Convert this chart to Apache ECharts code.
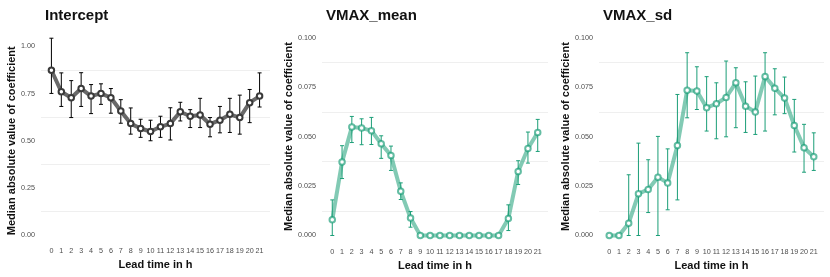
<!DOCTYPE html>
<html>
<head>
<meta charset="utf-8">
<script src="https://cdn.jsdelivr.net/npm/echarts@6/dist/echarts.min.js"></script>
<style>
  html, body { margin: 0; padding: 0; background: #fff; }
  #chart { width: 830px; height: 277px; }
</style>
</head>
<body>
<div id="chart"></div>
<script>
// ---- Data ----
const leadTimes = [0,1,2,3,4,5,6,7,8,9,10,11,12,13,14,15,16,17,18,19,20,21];

const panelTitles = ['Intercept', 'VMAX_mean', 'VMAX_sd'];

const interceptMedian = [0.874,0.760,0.728,0.777,0.737,0.751,0.728,0.658,0.591,0.565,0.549,0.574,0.591,0.654,0.630,0.637,0.588,0.609,0.640,0.623,0.702,0.737];
const interceptLow    = [0.751,0.682,0.623,0.682,0.644,0.693,0.646,0.593,0.535,0.518,0.500,0.518,0.504,0.605,0.570,0.570,0.521,0.542,0.544,0.535,0.596,0.679];
const interceptHigh   = [1.044,0.860,0.819,0.861,0.798,0.802,0.777,0.718,0.674,0.614,0.609,0.630,0.675,0.704,0.665,0.725,0.623,0.682,0.725,0.742,0.772,0.860];

const vmaxMeanMedian = [0.0079,0.0371,0.0548,0.0543,0.0530,0.0464,0.0405,0.0224,0.0088,0,0,0,0,0,0,0,0,0,0.0086,0.0324,0.0440,0.0521];
const vmaxMeanLow    = [0.0000,0.0288,0.0470,0.0459,0.0460,0.0390,0.0329,0.0182,0.0042,0,0,0,0,0,0,0,0,0,0.0025,0.0258,0.0366,0.0425];
const vmaxMeanHigh   = [0.0180,0.0454,0.0602,0.0590,0.0597,0.0504,0.0452,0.0266,0.0121,0,0,0,0,0,0,0,0,0,0.0155,0.0378,0.0523,0.0587];

const vmaxSdMedian = [0,0,0.0062,0.0211,0.0233,0.0295,0.0266,0.0455,0.0734,0.0730,0.0646,0.0666,0.0698,0.0772,0.0654,0.0624,0.0804,0.0745,0.0695,0.0556,0.0444,0.0398];
const vmaxSdLow    = [0,0,0.0000,0.0000,0.0116,0.0000,0.0130,0.0180,0.0595,0.0637,0.0528,0.0489,0.0499,0.0545,0.0521,0.0511,0.0528,0.0610,0.0616,0.0422,0.0320,0.0329];
const vmaxSdHigh   = [0,0,0.0307,0.0467,0.0383,0.0501,0.0438,0.0713,0.0924,0.0853,0.0803,0.0772,0.0882,0.0848,0.0777,0.0806,0.0924,0.0843,0.0801,0.0688,0.0562,0.0519];

const yMaxes = [1, 0.1, 0.1];
const yIntervals = [0.25, 0.025, 0.025];
const yDecimals = [2, 3, 3];

// ---- Layout / style ----
const FONT = 'Liberation Sans, Arial, Helvetica, sans-serif';
const grids = [
  { left: 41,  top: 46.5, width: 229, height: 188.5 },
  { left: 322, top: 37.7, width: 226, height: 197.8 },
  { left: 599, top: 37.7, width: 225, height: 197.8 }
];
const styles = [
  { line: 'rgba(55,55,55,0.75)', point: '#3a3a3a', err: '#000000' },
  { line: 'rgba(27,158,119,0.55)', point: 'rgba(27,158,119,0.68)', err: '#1b9e77' },
  { line: 'rgba(27,158,119,0.55)', point: 'rgba(27,158,119,0.68)', err: '#1b9e77' }
];
const medians = [interceptMedian, vmaxMeanMedian, vmaxSdMedian];
const lows = [interceptLow, vmaxMeanLow, vmaxSdLow];
const highs = [interceptHigh, vmaxMeanHigh, vmaxSdHigh];

const chart = echarts.init(document.getElementById('chart'), null, { renderer: 'canvas' });

const titles = [], xAxes = [], yAxes = [], series = [];
for (let p = 0; p < 3; p++) {
  titles.push({
    text: panelTitles[p],
    left: grids[p].left - 1,
    top: 3,
    textStyle: { fontFamily: FONT, fontWeight: 'bold', fontSize: 15, color: '#111' }
  });
  xAxes.push({
    gridIndex: p,
    type: 'value',
    min: -1.05,
    max: 22.05,
    name: 'Lead time in h',
    nameLocation: 'middle',
    nameGap: 23,
    nameTextStyle: { fontFamily: FONT, fontWeight: 'bold', fontSize: 11, color: '#111' },
    axisLine: { show: false },
    axisTick: { show: false },
    splitLine: { show: false },
    axisLabel: {
      customValues: leadTimes,
      margin: 13,
      fontFamily: FONT, fontSize: 7.2, color: '#4d4d4d',
      formatter: v => String(v)
    }
  });
  yAxes.push({
    gridIndex: p,
    type: 'value',
    min: 0,
    max: yMaxes[p],
    interval: yIntervals[p],
    name: 'Median absolute value of coefficient',
    nameLocation: 'middle',
    nameRotate: 90,
    nameGap: p === 0 ? 23.5 : 27.5,
    nameTextStyle: { fontFamily: FONT, fontWeight: 'bold', fontSize: 11, color: '#111' },
    axisLine: { show: false },
    axisTick: { show: false },
    splitLine: { show: false },
    minorTick: { show: false, splitNumber: 2 },
    minorSplitLine: { show: true, lineStyle: { color: '#ebebeb', width: 0.8 } },
    axisLabel: {
      margin: 6,
      fontFamily: FONT, fontSize: 7.2, color: '#4d4d4d',
      formatter: v => v.toFixed(yDecimals[p])
    }
  });
  const pts = leadTimes.map((t, i) => [t, medians[p][i]]);
  const errs = leadTimes.map((t, i) => [t, lows[p][i], highs[p][i]]);
  series.push({
    type: 'line',
    xAxisIndex: p, yAxisIndex: p,
    data: pts,
    showSymbol: false,
    clip: false,
    lineStyle: { color: styles[p].line, width: 4, join: 'round', cap: 'round' },
    z: 2,
    silent: true,
    animation: false
  });
  series.push({
    type: 'custom',
    xAxisIndex: p, yAxisIndex: p,
    data: errs,
    clip: false,
    z: 3,
    silent: true,
    animation: false,
    renderItem: (params, api) => {
      const x = api.value(0);
      const lo = api.coord([x, api.value(1)]);
      const hi = api.coord([x, api.value(2)]);
      const c = 2;
      const st = { stroke: styles[p].err, lineWidth: 1 };
      return {
        type: 'group',
        children: [
          { type: 'line', shape: { x1: lo[0], y1: lo[1], x2: hi[0], y2: hi[1] }, style: st },
          { type: 'line', shape: { x1: lo[0] - c, y1: lo[1], x2: lo[0] + c, y2: lo[1] }, style: st },
          { type: 'line', shape: { x1: hi[0] - c, y1: hi[1], x2: hi[0] + c, y2: hi[1] }, style: st }
        ]
      };
    }
  });
  series.push({
    type: 'scatter',
    xAxisIndex: p, yAxisIndex: p,
    data: pts,
    symbol: 'circle',
    symbolSize: 5.5,
    clip: false,
    itemStyle: { color: '#ffffff', borderColor: styles[p].point, borderWidth: 2, opacity: 1 },
    z: 4,
    silent: true,
    animation: false
  });
}

chart.setOption({
  backgroundColor: '#ffffff',
  animation: false,
  title: titles,
  grid: grids,
  xAxis: xAxes,
  yAxis: yAxes,
  series: series
});
</script>
</body>
</html>
